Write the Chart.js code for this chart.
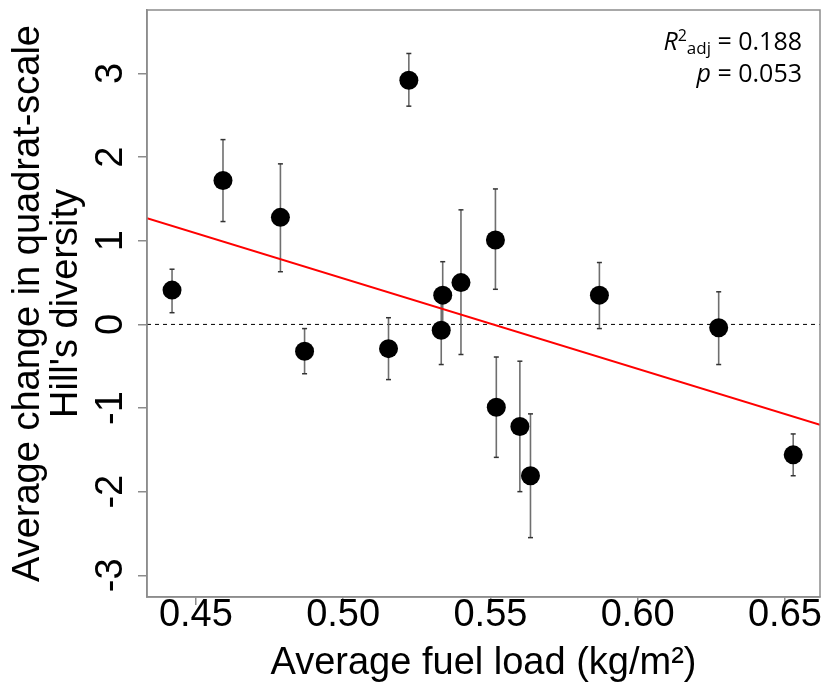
<!DOCTYPE html>
<html>
<head>
<meta charset="utf-8">
<script src="https://cdn.jsdelivr.net/npm/chart.js@4.4.1/dist/chart.umd.min.js"></script>
<style>
  html, body { margin: 0; padding: 0; background: #ffffff; }
  canvas { display: block; }
</style>
</head>
<body>
<canvas id="c" width="822" height="683"></canvas>
<script>
// ---- data ----
const fuelLoad   = [0.4419, 0.4592, 0.4787, 0.4869, 0.5154, 0.5223, 0.5338, 0.5333, 0.5400, 0.5517, 0.5520, 0.5600, 0.5636, 0.5870, 0.6275, 0.6528];
const meanChange = [0.41, 1.72, 1.28, -0.32, -0.29, 2.92, 0.35, -0.07, 0.50, 1.01, -0.99, -1.22, -1.81, 0.35, -0.04, -1.56];
const errLow     = [0.14, 1.23, 0.63, -0.59, -0.66, 2.61, -0.06, -0.48, -0.36, 0.42, -1.59, -2.00, -2.55, -0.05, -0.48, -1.81];
const errHigh    = [0.66, 2.21, 1.92, -0.05, 0.08, 3.24, 0.75, 0.34, 1.37, 1.62, -0.39, -0.44, -1.07, 0.74, 0.39, -1.31];
const fitX = [0.4334, 0.6619];
const fitY = [1.27, -1.20];
const zeroY = [0, 0];
const xRange = [0.4334, 0.6619];
const yRange = [-3.26, 3.76];
const xTickStep = 0.05;
const yTickStep = 1;
const xTitle = 'Average fuel load (kg/m\u00B2)';
const yTitle = ['Average change in quadrat-scale', "Hill's diversity"];
const statR2 = '0.188';
const statP = '0.053';

// ---- build datasets ----
const pointData = fuelLoad.map((x, i) => ({ x: x, y: meanChange[i] }));
const errData = [];
fuelLoad.forEach((x, i) => {
  errData.push({ x: x, y: errLow[i] });
  errData.push({ x: x, y: errHigh[i] });
  errData.push({ x: x, y: null });
});
const fitData = fitX.map((x, i) => ({ x: x, y: fitY[i] }));
const zeroData = xRange.map((x, i) => ({ x: x, y: zeroY[i] }));

const AXIS_GRAY = '#8c8c8c';

const boxPlugin = {
  id: 'box',
  afterDraw(chart) {
    const { ctx, chartArea: a } = chart;
    ctx.save();
    ctx.strokeStyle = AXIS_GRAY;
    ctx.lineWidth = 1.5;
    ctx.strokeRect(a.left, a.top, a.right - a.left, a.bottom - a.top);
    ctx.restore();
  }
};

const statsPlugin = {
  id: 'stats',
  afterDraw(chart) {
    const { ctx } = chart;
    const right = 802;
    const fam = '"Open Sans", "Liberation Sans", sans-serif';
    ctx.save();
    ctx.fillStyle = '#000';
    ctx.textBaseline = 'alphabetic';
    const pieces1 = [
      { t: 'R', f: 'italic 25px ' + fam, dy: 0 },
      { t: '2', f: '16px ' + fam, dy: -9 },
      { t: 'adj', f: '17px ' + fam, dy: 4 },
      { t: ' = ' + statR2, f: '25px ' + fam, dy: 0 }
    ];
    const pieces2 = [
      { t: 'p', f: 'italic 25px ' + fam, dy: 0 },
      { t: ' = ' + statP, f: '25px ' + fam, dy: 0 }
    ];
    function drawLine(pieces, baseY) {
      let w = 0;
      pieces.forEach(p => { ctx.font = p.f; p.w = ctx.measureText(p.t).width; w += p.w; });
      let x = right - w;
      pieces.forEach(p => { ctx.font = p.f; ctx.fillText(p.t, x, baseY + p.dy); x += p.w; });
    }
    drawLine(pieces1, 50);
    drawLine(pieces2, 82);
    ctx.restore();
  }
};

new Chart(document.getElementById('c'), {
  type: 'scatter',
  data: {
    datasets: [
      {
        type: 'line', data: fitData, borderColor: '#ff0000', borderWidth: 2,
        pointRadius: 0, fill: false, tension: 0
      },
      {
        type: 'scatter', data: pointData, backgroundColor: '#000', borderColor: '#000',
        borderWidth: 0, pointRadius: 9.5, pointStyle: 'circle'
      },
      {
        type: 'line', data: errData, borderColor: 'rgba(95,95,95,0.9)', borderWidth: 1.6,
        spanGaps: false, pointStyle: 'line', pointRadius: 2.5,
        pointBorderColor: '#333', pointBorderWidth: 1.5, fill: false, tension: 0
      },
      {
        type: 'line', data: zeroData, borderColor: '#000', borderWidth: 1,
        borderDash: [4, 4], pointRadius: 0, fill: false
      }
    ]
  },
  options: {
    responsive: false,
    animation: false,
    events: [],
    layout: { autoPadding: false, padding: { top: 10, right: 2, left: 0, bottom: 0 } },
    plugins: { legend: { display: false }, tooltip: { enabled: false } },
    scales: {
      x: {
        type: 'linear', min: xRange[0], max: xRange[1],
        afterFit(s) { s.height = 86; s.paddingLeft = 0; s.paddingRight = 0; },
        grid: { drawOnChartArea: false, drawTicks: true, tickLength: 8, color: AXIS_GRAY, lineWidth: 1.5 },
        border: { display: true, color: AXIS_GRAY, width: 1.5 },
        ticks: {
          stepSize: xTickStep, includeBounds: false, autoSkip: false, maxRotation: 0,
          padding: -12, color: '#000',
          font: { family: '"Liberation Sans", Arial, sans-serif', size: 38 },
          callback: v => Number(v).toFixed(2)
        },
        title: {
          display: true, text: xTitle, color: '#000',
          font: { family: '"Liberation Sans", Arial, sans-serif', size: 38, lineHeight: 1.0 },
          padding: { top: 0, bottom: 0 }
        }
      },
      y: {
        type: 'linear', min: yRange[0], max: yRange[1],
        afterFit(s) { s.width = 147; s.paddingTop = 0; s.paddingBottom = 0; },
        grid: { drawOnChartArea: false, drawTicks: true, tickLength: 9, color: AXIS_GRAY, lineWidth: 1.5 },
        border: { display: true, color: AXIS_GRAY, width: 1.5 },
        ticks: {
          stepSize: yTickStep, includeBounds: false, autoSkip: false,
          minRotation: 90, maxRotation: 90, crossAlign: 'center',
          padding: 10, color: '#000',
          font: { family: '"Liberation Sans", Arial, sans-serif', size: 38 },
          callback: v => String(Math.round(v))
        },
        title: {
          display: true, text: yTitle, color: '#000',
          font: { family: '"Liberation Sans", Arial, sans-serif', size: 38, lineHeight: 1.0 },
          padding: { top: 10, bottom: 0 }
        }
      }
    }
  },
  plugins: [boxPlugin, statsPlugin]
});
</script>
</body>
</html>
